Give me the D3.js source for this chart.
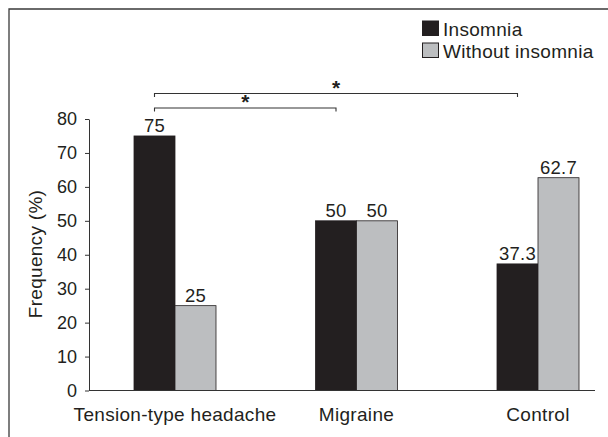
<!DOCTYPE html>
<html>
<head>
<meta charset="utf-8">
<script src="https://cdn.jsdelivr.net/npm/d3@7"></script>
<style>
  html, body { margin: 0; padding: 0; background: #fff; }
  svg { display: block; }
  text { font-family: "Liberation Sans", Arial, Helvetica, sans-serif; fill: #231f20; }
</style>
</head>
<body>
<svg id="chart" width="608" height="437"></svg>
<script>
// ---- data ----
const categories = ["Tension-type headache", "Migraine", "Control"];
const seriesNames = ["Insomnia", "Without insomnia"];
const insomnia = [75, 50, 37.3];
const withoutInsomnia = [25, 50, 62.7];
const valueLabels = [["75", "25"], ["50", "50"], ["37.3", "62.7"]];
const yTicks = [0, 10, 20, 30, 40, 50, 60, 70, 80];
const yLabel = "Frequency (%)";
// significance comparisons (Insomnia bars): [from category, to category, marker]
const comparisons = [
  ["Tension-type headache", "Migraine", "*"],
  ["Tension-type headache", "Control", "*"]
];

// ---- layout ----
const svg = d3.select("#chart");
const colors = ["#231f20", "#bcbec0"];
const fontSize = 19;
const ls = "0.3px";
const axisX = 89, axisY0 = 390.5, axisRight = 595;

const y = d3.scaleLinear().domain([0, 80]).range([axisY0, 119]);
const x0 = d3.scalePoint().domain(categories).range([175, 538]);
const barW = 41;
const x1 = d3.scaleBand().domain(seriesNames).range([-barW, barW]);
const barCenter = (cat, s) => x0(cat) + x1(s) + x1.bandwidth() / 2;

// frame
svg.append("path")
  .attr("d", "M9,437 V9 H608")
  .attr("fill", "none").attr("stroke", "#3a3a3a").attr("stroke-width", 1.3);

// bars
const table = categories.map((c, i) => ({ cat: c, vals: [insomnia[i], withoutInsomnia[i]], labels: valueLabels[i] }));
const groups = svg.append("g").selectAll("g").data(table).join("g")
  .attr("transform", d => `translate(${x0(d.cat)},0)`);
groups.selectAll("rect").data(d => d.vals.map((v, j) => ({ v, j }))).join("rect")
  .attr("x", d => x1(seriesNames[d.j]))
  .attr("width", x1.bandwidth())
  .attr("y", d => y(d.v))
  .attr("height", d => axisY0 - y(d.v))
  .attr("fill", d => colors[d.j])
  .attr("stroke", "#231f20").attr("stroke-width", 0.8);
groups.selectAll("text.val").data(d => d.vals.map((v, j) => ({ v, j, t: d.labels[j] }))).join("text")
  .attr("class", "val")
  .attr("x", d => x1(seriesNames[d.j]) + x1.bandwidth() / 2)
  .attr("y", d => y(d.v) - 4)
  .attr("text-anchor", "middle")
  .style("font-size", "18.5px").style("letter-spacing", ls)
  .text(d => d.t);

// y axis
const yAxis = d3.axisLeft(y).tickValues(yTicks).tickSize(4).tickPadding(8).tickSizeOuter(0);
const gy = svg.append("g").attr("transform", `translate(${axisX},0)`).call(yAxis);
gy.select(".domain").attr("stroke", "#333");
gy.selectAll(".tick line").attr("stroke", "#333");
gy.selectAll(".tick text").style("font-size", "18px")
  .style("font-family", "'Liberation Sans', Arial, sans-serif").attr("fill", "#231f20");

// x axis line
svg.append("line").attr("x1", axisX).attr("x2", axisRight)
  .attr("y1", axisY0).attr("y2", axisY0).attr("stroke", "#333");

// x labels
svg.append("g").selectAll("text").data(categories).join("text")
  .attr("x", d => x0(d)).attr("y", 420.5)
  .attr("text-anchor", "middle").style("font-size", fontSize + "px").style("letter-spacing", ls)
  .text(d => d);

// y label
svg.append("text")
  .attr("transform", `translate(42,254) rotate(-90)`)
  .attr("text-anchor", "middle").style("font-size", fontSize + "px").style("letter-spacing", ls)
  .text(yLabel);

// legend
const lg = svg.append("g").selectAll("g").data(seriesNames).join("g")
  .attr("transform", (d, i) => `translate(422.5,${21 + i * 22})`);
lg.append("rect").attr("width", 16).attr("height", 14.5)
  .attr("fill", (d, i) => colors[i]).attr("stroke", "#231f20").attr("stroke-width", 1);
lg.append("text").attr("x", 20.5).attr("y", 14.5)
  .style("font-size", fontSize + "px").style("letter-spacing", ls).text(d => d);

// significance brackets (between Insomnia bars)
const levels = [108, 93.5];
const br = svg.append("g").selectAll("g").data(comparisons).join("g");
br.append("path")
  .attr("d", (d, i) => {
    const a = barCenter(d[0], seriesNames[0]), b = barCenter(d[1], seriesNames[0]), yy = levels[i];
    return `M${a},${yy + 3.5} V${yy} H${b} V${yy + 3.5}`;
  })
  .attr("fill", "none").attr("stroke", "#333").attr("stroke-width", 1.1);
br.append("text")
  .attr("x", d => (barCenter(d[0], seriesNames[0]) + barCenter(d[1], seriesNames[0])) / 2)
  .attr("y", (d, i) => levels[i] + 1)
  .attr("text-anchor", "middle").style("font-size", "21px").style("font-weight", "bold")
  .text(d => d[2]);
</script>
</body>
</html>
